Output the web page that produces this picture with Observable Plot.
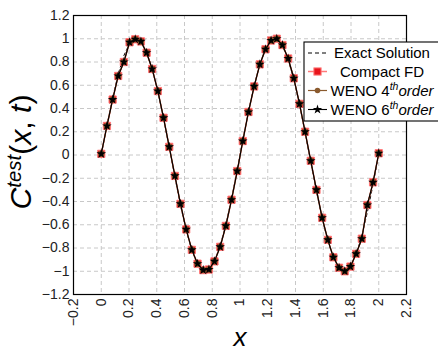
<!DOCTYPE html>
<html><head><meta charset="utf-8">
<script src="https://cdn.jsdelivr.net/npm/d3@7"></script>
<script src="https://cdn.jsdelivr.net/npm/@observablehq/plot@0.6"></script>
<style>body{margin:0;background:#fff} svg{display:block}</style>
</head><body><div id="chart"></div>
<script>
const xs = [0, 0.041, 0.082, 0.122, 0.163, 0.204, 0.245, 0.286, 0.327, 0.367, 0.408, 0.449, 0.490, 0.531, 0.571, 0.612, 0.653, 0.694, 0.735, 0.776, 0.816, 0.857, 0.898, 0.939, 0.980, 1.020, 1.061, 1.102, 1.143, 1.184, 1.224, 1.265, 1.306, 1.347, 1.388, 1.429, 1.469, 1.510, 1.551, 1.592, 1.633, 1.673, 1.714, 1.755, 1.796, 1.837, 1.878, 1.918, 1.959, 2.0];
const exact = [0, 0.254, 0.491, 0.696, 0.855, 0.959, 0.9995, 0.975, 0.887, 0.740, 0.546, 0.315, 0.064, -0.191, -0.434, -0.648, -0.821, -0.939, -0.995, -0.987, -0.914, -0.782, -0.598, -0.375, -0.128, 0.128, 0.375, 0.598, 0.782, 0.914, 0.987, 0.995, 0.939, 0.821, 0.648, 0.434, 0.191, -0.064, -0.315, -0.546, -0.740, -0.887, -0.975, -0.9995, -0.959, -0.855, -0.696, -0.491, -0.254, 0];
const compactFD = [0.01, 0.25, 0.477, 0.68, 0.80, 0.97, 0.995, 0.977, 0.88, 0.74, 0.55, 0.32, 0.07, -0.18, -0.42, -0.64, -0.816, -0.935, -0.99, -0.985, -0.915, -0.79, -0.61, -0.385, -0.138, 0.12, 0.37, 0.59, 0.78, 0.91, 0.985, 1.0, 0.946, 0.83, 0.66, 0.44, 0.20, -0.05, -0.30, -0.54, -0.73, -0.88, -0.97, -1.0, -0.96, -0.85, -0.72, -0.43, -0.235, 0.015];
const weno4 = [0.01, 0.25, 0.477, 0.68, 0.80, 0.97, 0.995, 0.977, 0.88, 0.74, 0.55, 0.32, 0.07, -0.18, -0.42, -0.64, -0.816, -0.935, -0.99, -0.985, -0.915, -0.79, -0.61, -0.385, -0.138, 0.12, 0.37, 0.59, 0.78, 0.91, 0.985, 1.0, 0.946, 0.83, 0.66, 0.44, 0.20, -0.05, -0.30, -0.54, -0.73, -0.88, -0.97, -1.0, -0.96, -0.85, -0.72, -0.43, -0.235, 0.015];
const weno6 = [0.01, 0.25, 0.477, 0.68, 0.80, 0.97, 0.995, 0.977, 0.88, 0.74, 0.55, 0.32, 0.07, -0.18, -0.42, -0.64, -0.816, -0.935, -0.99, -0.985, -0.915, -0.79, -0.61, -0.385, -0.138, 0.12, 0.37, 0.59, 0.78, 0.91, 0.985, 1.0, 0.946, 0.83, 0.66, 0.44, 0.20, -0.05, -0.30, -0.54, -0.73, -0.88, -0.97, -1.0, -0.96, -0.85, -0.72, -0.43, -0.235, 0.015];
const xTicks = [-0.2, 0, 0.2, 0.4, 0.6, 0.8, 1, 1.2, 1.4, 1.6, 1.8, 2, 2.2];
const yTicks = [-1.2, -1, -0.8, -0.6, -0.4, -0.2, 0, 0.2, 0.4, 0.6, 0.8, 1, 1.2];

const FONT = "'Liberation Sans', Arial, sans-serif";
const fmt = d => (d < 0 ? "\u2212" : "") + String(+Math.abs(d).toFixed(1));
const rows = ys => xs.map((x, i) => ({x, y: ys[i]}));

const RED = "#e8141c", PINK = "#ff7a7a", BROWN = "#8a5a2e";

const plot = Plot.plot({
  width: 438, height: 352,
  marginLeft: 73, marginRight: 32, marginTop: 15, marginBottom: 58,
  style: {fontFamily: FONT, fontSize: "14px", color: "#222", background: "#fff"},
  x: {domain: [-0.2, 2.2]},
  y: {domain: [-1.2, 1.2]},
  marks: [
    Plot.gridX(xTicks, {stroke: "#c8c8c8", strokeOpacity: 1, strokeDasharray: "4,3"}),
    Plot.gridY(yTicks, {stroke: "#c8c8c8", strokeOpacity: 1, strokeDasharray: "4,3"}),
    Plot.axisX(xTicks, {tickFormat: fmt, tickRotate: -90, tickSize: 0, tickPadding: 4, fontSize: 14, label: null}),
    Plot.axisY(yTicks, {tickFormat: fmt, tickSize: 0, tickPadding: 4, fontSize: 14, label: null}),
    Plot.line(rows(exact), {x: "x", y: "y", stroke: "#000", strokeWidth: 1, strokeDasharray: "3,3"}),
    Plot.line(rows(compactFD), {x: "x", y: "y", stroke: PINK, strokeWidth: 1.5}),
    Plot.dot(rows(compactFD), {x: "x", y: "y", symbol: "square", r: 4.1, fill: RED, stroke: PINK, strokeWidth: 1}),
    Plot.line(rows(weno4), {x: "x", y: "y", stroke: BROWN, strokeWidth: 1.2}),
    Plot.dot(rows(weno4), {x: "x", y: "y", symbol: "circle", r: 2.5, fill: BROWN, stroke: BROWN}),
    Plot.line(rows(weno6), {x: "x", y: "y", stroke: "#000", strokeWidth: 1.1}),
    Plot.dot(rows(weno6), {x: "x", y: "y", symbol: "star", r: 3, fill: "#000", stroke: "none"}),
    Plot.frame({stroke: "#000", strokeWidth: 1.2})
  ]
});

document.getElementById("chart").appendChild(plot);
const svg = d3.select(plot);

// Axis labels
svg.append("text")
  .attr("x", 240).attr("y", 346)
  .attr("text-anchor", "middle")
  .attr("font-family", FONT).attr("font-style", "italic").attr("font-size", 26)
  .attr("fill", "#000").text("x");

const yl = svg.append("text")
  .attr("text-anchor", "middle")
  .attr("font-family", FONT).attr("fill", "#000");
yl.append("tspan").attr("font-size", 28).attr("font-style", "italic").text("C");
yl.append("tspan").attr("font-size", 19).attr("font-style", "italic").attr("dy", -9).text("test");
yl.append("tspan").attr("font-size", 28).attr("dy", 9).text("(");
yl.append("tspan").attr("font-size", 28).attr("font-style", "italic").text("x");
yl.append("tspan").attr("font-size", 28).text(", ");
yl.append("tspan").attr("font-size", 28).attr("font-style", "italic").text("t");
yl.append("tspan").attr("font-size", 28).text(")");
let len = yl.node().getBBox().width || 115;
let s = Math.max(0.6, Math.min(1.3, 115 / len));
yl.attr("transform", `translate(31,152) rotate(-90) scale(${s})`);

// Legend
const lg = svg.append("g");
lg.append("rect").attr("x", 304).attr("y", 42).attr("width", 140).attr("height", 79)
  .attr("fill", "#fff").attr("stroke", "#000").attr("stroke-width", 1.1);
const rowsY = [53, 71.5, 90.5, 109.5];
const lx0 = 308, lx1 = 327, lxm = 317.5, tx = 382;
lg.append("line").attr("x1", lx0).attr("x2", lx1).attr("y1", rowsY[0]).attr("y2", rowsY[0])
  .attr("stroke", "#000").attr("stroke-dasharray", "4,3");
lg.append("line").attr("x1", lx0).attr("x2", lx1).attr("y1", rowsY[1]).attr("y2", rowsY[1])
  .attr("stroke", PINK).attr("stroke-width", 1.5);
lg.append("rect").attr("x", lxm - 3.6).attr("y", rowsY[1] - 3.6).attr("width", 7.2).attr("height", 7.2)
  .attr("fill", RED).attr("stroke", PINK);
lg.append("line").attr("x1", lx0).attr("x2", lx1).attr("y1", rowsY[2]).attr("y2", rowsY[2])
  .attr("stroke", BROWN).attr("stroke-width", 1.2);
lg.append("circle").attr("cx", lxm).attr("cy", rowsY[2]).attr("r", 2.8).attr("fill", BROWN);
lg.append("line").attr("x1", lx0).attr("x2", lx1).attr("y1", rowsY[3]).attr("y2", rowsY[3])
  .attr("stroke", "#000").attr("stroke-width", 1.1);
lg.append("path").attr("transform", `translate(${lxm},${rowsY[3]})`)
  .attr("d", d3.symbol(d3.symbolStar, 28)()).attr("fill", "#000");

const labels = [
  [{t: "Exact Solution"}],
  [{t: "Compact FD"}],
  [{t: "WENO 4"}, {t: "th", sup: true}, {t: "order", it: true}],
  [{t: "WENO 6"}, {t: "th", sup: true}, {t: "order", it: true}]
];
labels.forEach((parts, i) => {
  const t = lg.append("text").attr("x", tx).attr("y", rowsY[i] + 5.3)
    .attr("text-anchor", "middle").attr("font-family", FONT).attr("font-size", 15).attr("fill", "#000");
  parts.forEach(p => {
    const sp = t.append("tspan").text(p.t);
    if (p.sup) sp.attr("font-size", 10.5).attr("font-style", "italic").attr("dy", -6);
    if (p.it) sp.attr("font-style", "italic").attr("dy", 6);
  });
});
</script>
</body></html>
